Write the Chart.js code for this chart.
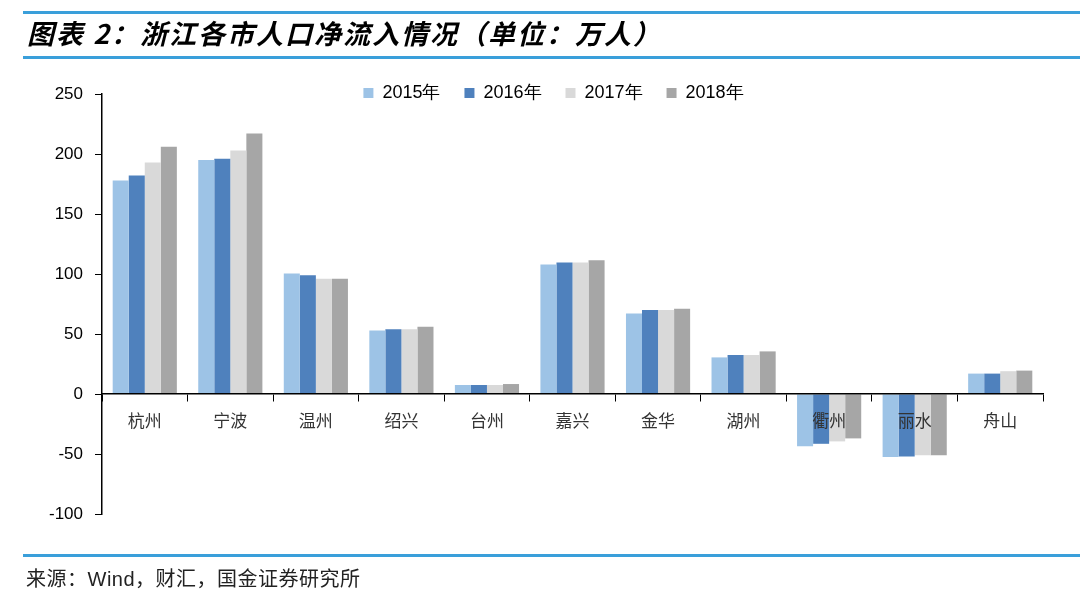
<!DOCTYPE html>
<html>
<head>
<meta charset="utf-8">
<script src="https://cdn.jsdelivr.net/npm/chart.js"></script>
<style>
    body { margin: 0; background: #fff; }
    #wrap { position: relative; width: 1080px; height: 606px; overflow: hidden; }
    #myChart { position: absolute; left: 0; top: 0; }
    .rule { position: absolute; left: 23px; right: 0; height: 0; border-top: 3px solid #3a9fda; }
    #title {
        position: absolute; left: 27px; top: 13px;
        font: italic bold 27px "Noto Sans CJK SC", sans-serif;
        letter-spacing: 2px;
        color: #000; white-space: nowrap;
    }
    #source {
        position: absolute; left: 26px; top: 563px;
        font: 20px "Noto Sans CJK SC", sans-serif;
        letter-spacing: 0.5px;
        color: #222; white-space: nowrap;
    }
</style>
</head>
<body>
<div id="wrap">
    <canvas id="myChart" width="1080" height="606"></canvas>
    <div class="rule" style="top: 11px"></div>
    <div id="title">图表 2：浙江各市人口净流入情况（单位：万人）</div>
    <div class="rule" style="top: 56px"></div>
    <div class="rule" style="top: 554px"></div>
    <div id="source">来源：<span style="font-family: 'Liberation Sans'">Wind</span>，财汇，国金证券研究所</div>
</div>
<script>
// values (万人)
const cities = ['杭州', '宁波', '温州', '绍兴', '台州', '嘉兴', '金华', '湖州', '衢州', '丽水', '舟山']
const years = ['2015年', '2016年', '2017年', '2018年']
const y2015 = [178, 195, 100.5, 53, 7.5, 108, 67, 30.5, -43.5, -52.5, 17]
const y2016 = [182, 196, 99, 54, 7.5, 109.5, 70, 32.5, -41.5, -52, 17]
const y2017 = [193, 203, 96, 54, 7.5, 109.5, 70, 32.5, -39.5, -51, 19]
const y2018 = [206, 217, 96, 56, 8.3, 111.5, 71, 35.5, -37, -51, 19.5]
const colors = ['#9dc3e6', '#4f81bd', '#d9d9d9', '#a6a6a6']

// legend sits inside the plot in the original, so move it after layout
const legendMove = {
    id: 'legendMove',
    afterLayout(chart) {
        const lg = chart.legend
        const down = 93 - (lg.top + lg.options.labels.padding + 9)
        lg.top += down
        lg.bottom += down
        lg.left += 32
        lg.right += 32
    }
}

function drawChart() {
    const ctx = document.getElementById('myChart').getContext('2d')

    const series = [y2015, y2016, y2017, y2018]
    let datasets = []
    series.forEach((values, i) => {
        datasets.push({
            label: years[i],
            data: values,
            backgroundColor: colors[i],
            borderWidth: 0,
            barPercentage: 1,
            categoryPercentage: 0.75
        })
    })

    const myChart = new Chart(ctx, {
        type: 'bar',
        data: {
            labels: cities,
            datasets: datasets
        },
        plugins: [legendMove],
        options: {
            responsive: false,
            animation: false,
            devicePixelRatio: 1,
            layout: {
                padding: { top: 42, left: 0, right: 37, bottom: 92 }
            },
            plugins: {
                legend: {
                    position: 'top',
                    labels: {
                        boxWidth: 10,
                        boxHeight: 10,
                        padding: 24,
                        color: '#000',
                        font: { family: 'Liberation Sans', size: 18 }
                    }
                },
                tooltip: { enabled: false }
            },
            scales: {
                x: {
                    position: { y: 0 },
                    grid: {
                        drawOnChartArea: false,
                        tickLength: 7,
                        color: '#000',
                        offset: true
                    },
                    // axis line and city names go over the negative bars
                    border: { color: '#000', width: 1.5, z: 1 },
                    ticks: {
                        z: 1,
                        padding: 9,
                        color: '#333',
                        font: { family: 'Noto Sans CJK SC', size: 17 }
                    }
                },
                y: {
                    min: -100,
                    max: 250,
                    grid: {
                        drawOnChartArea: false,
                        tickLength: 7,
                        color: '#000'
                    },
                    border: { color: '#000', width: 1.5 },
                    ticks: {
                        stepSize: 50,
                        padding: 12,
                        color: '#000',
                        font: { family: 'Liberation Sans', size: 17 }
                    },
                    afterFit: (scale) => { scale.width = 102 }
                }
            }
        }
    })
    console.log(myChart.chartArea)
}

window.onload = () => {
    drawChart()
}
</script>
</body>
</html>
